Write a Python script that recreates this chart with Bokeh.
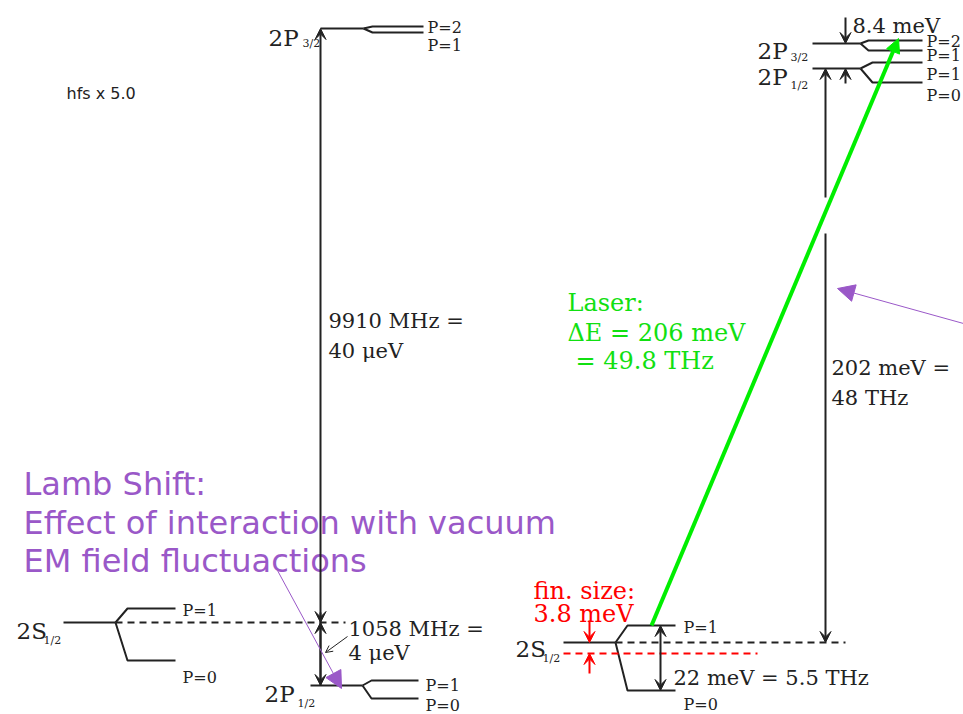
from bokeh.plotting import figure
from bokeh.models import Range1d, Arrow, VeeHead, NormalHead, OpenHead, ColumnDataSource
from bokeh.embed import file_html
from bokeh.resources import INLINE
from bokeh.core.properties import value

W, H = 963, 714

# ---------------- data (diagram units, y grows downward) ----------------
# hyperfine-split levels: main line x0->xs at y, then branches to yu / yl ending at x1
level_names = ["H 2P3/2", "H 2S1/2", "H 2P1/2", "mu 2P3/2", "mu 2P1/2", "mu 2S1/2"]
level_x0 = [320, 63, 310, 812, 812, 563]
level_xs = [363, 115, 362, 860, 860, 615]
level_xb = [372, 127, 371, 868, 872, 627]
level_x1 = [423, 175, 418, 922, 922, 675]
level_y = [28, 622, 685, 43, 68, 642]
level_yu = [26, 608, 680, 40, 62, 625]
level_yl = [32, 660, 698, 50, 82, 690]

# dashed reference lines
dash_x0 = [115, 615, 563]
dash_x1 = [345, 845, 757]
dash_y = [622, 642, 653]
dash_col = ["#222222", "#222222", "#ff0000"]

# transition arrows (x0, y0) -> (x1, y1)
arr_x0 = [320, 320, 320, 825, 825, 845, 845, 660, 589, 589]
arr_y0 = [685, 622, 612, 197, 233, 17, 83, 690, 620, 673]
arr_x1 = [320, 320, 320, 825, 825, 845, 845, 660, 589, 589]
arr_y1 = [28, 685, 622, 68, 642, 43, 68, 625, 642, 653]
arr_both = [False, True, False, False, False, False, False, True, False, False]
arr_col = ["#222222"] * 8 + ["#ff0000", "#ff0000"]

# laser transition
laser_x = [651, 898]
laser_y = [625, 38]

# annotation pointers (purple)
ptr_x0 = [277, 963]
ptr_y0 = [570, 323]
ptr_x1 = [341, 837]
ptr_y1 = [688, 288]

# small pointer for 4 ueV
small_x = [347, 325]
small_y = [636, 652]

# texts: (x, baseline y, text)
main_texts = [
    (328, 320, "9910 MHz ="), (328, 350, "40 \u03bceV"),
    (348, 628, "1058 MHz ="), (348, 652, "4 \u03bceV"),
    (831, 367, "202 meV ="), (831, 397, "48 THz"),
    (852, 25, "8.4 meV"), (673, 677, "22 meV = 5.5 THz"),
]
state_texts = [
    (268, 37, "2P"), (16, 630, "2S"), (264, 693, "2P"),
    (757, 50, "2P"), (757, 76, "2P"), (515, 648, "2S"),
]
sub_texts = [
    (302, 43, "3/2"), (43, 640, "1/2"), (297, 703, "1/2"),
    (790, 57, "3/2"), (790, 85, "1/2"), (542, 658, "1/2"),
]
p_texts = [
    (427, 27, "P=2"), (427, 45, "P=1"),
    (182, 610, "P=1"), (182, 677, "P=0"),
    (425, 685, "P=1"), (425, 705, "P=0"),
    (926, 41, "P=2"), (926, 55, "P=1"), (926, 74, "P=1"), (926, 95, "P=0"),
    (683, 627, "P=1"), (683, 704, "P=0"),
]
laser_texts = [(567, 302, "Laser:"), (567, 332, "\u0394E = 206 meV"), (575, 360, "= 49.8 THz")]
fin_texts = [(533, 590, "fin. size:"), (533, 613, "3.8 meV")]
lamb_texts = [(23, 483, "Lamb Shift:"), (23, 522, "Effect of interaction with vacuum"),
              (23, 560, "EM field fluctuactions")]
hfs_text = [(66, 93, "hfs x 5.0")]

BLACK = "#222222"
PURPLE = "#9a58c8"
GREEN = "#11e011"
RED = "#ff0000"
SERIF = "DejaVu Serif"

# ---------------- figure ----------------
p = figure(width=W, height=H, x_range=Range1d(0, W), y_range=Range1d(H, 0),
           output_backend="svg", toolbar_location=None, min_border=0,
           x_axis_type=None, y_axis_type=None)
p.grid.visible = False
p.outline_line_color = None
p.background_fill_color = "white"
p.border_fill_color = "white"

# levels
xs, ys = [], []
for x0, xsp, xb, x1, y, yu, yl in zip(level_x0, level_xs, level_xb, level_x1, level_y, level_yu, level_yl):
    xs += [[x0, xsp], [xsp, xb, x1], [xsp, xb, x1]]
    ys += [[y, y], [y, yu, yu], [y, yl, yl]]
p.multi_line(xs, ys, line_color=BLACK, line_width=2)

# dashed lines
for x0, x1, y, c in zip(dash_x0, dash_x1, dash_y, dash_col):
    p.line([x0, x1], [y, y], line_color=c, line_width=2, line_dash="7 5")

# arrows
for x0, y0, x1, y1, both, c in zip(arr_x0, arr_y0, arr_x1, arr_y1, arr_both, arr_col):
    def head(c=c):
        return VeeHead(size=11, fill_color=c, line_color=c, line_width=1)
    p.add_layout(Arrow(end=head(), start=head() if both else None,
                       x_start=x0, y_start=y0, x_end=x1, y_end=y1,
                       line_color=c, line_width=2))

# laser
p.add_layout(Arrow(end=NormalHead(size=14, fill_color="#00ee00", line_color="#00ee00"),
                   x_start=laser_x[0], y_start=laser_y[0], x_end=laser_x[1], y_end=laser_y[1],
                   line_color="#00ee00", line_width=4))

# purple pointers
for x0, y0, x1, y1 in zip(ptr_x0, ptr_y0, ptr_x1, ptr_y1):
    p.add_layout(Arrow(end=NormalHead(size=17, fill_color=PURPLE, line_color=PURPLE),
                       x_start=x0, y_start=y0, x_end=x1, y_end=y1,
                       line_color=PURPLE, line_width=1))

p.add_layout(Arrow(end=OpenHead(size=7, line_color=BLACK, line_width=1),
                   x_start=small_x[0], y_start=small_y[0], x_end=small_x[1], y_end=small_y[1],
                   line_color=BLACK, line_width=1))


def put(items, size, color, font=SERIF, style="normal"):
    src = ColumnDataSource(dict(x=[t[0] for t in items], y=[t[1] for t in items],
                                t=[t[2] for t in items]))
    p.text(x="x", y="y", text="t", source=src, text_font=value(font),
           text_font_size=f"{size}px", text_color=color, text_align="left",
           text_baseline="alphabetic", text_font_style=style)


put(main_texts, 21, BLACK)
put(state_texts, 23, BLACK)
put(sub_texts, 11, BLACK)
put(p_texts, 16, BLACK)
put(laser_texts, 24, GREEN)
put(fin_texts, 24, RED)
put(lamb_texts, 32, PURPLE, font="DejaVu Sans")
put(hfs_text, 16, BLACK, font="DejaVu Sans")

open("out.html", "w").write(file_html(p, INLINE))
